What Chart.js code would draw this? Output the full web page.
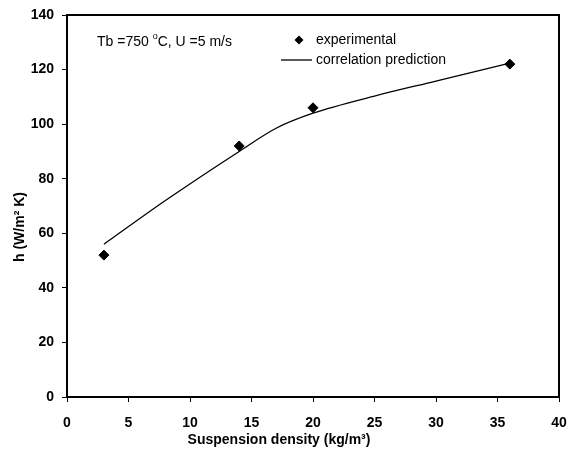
<!DOCTYPE html>
<html>
<head>
<meta charset="utf-8">
<script src="https://cdn.jsdelivr.net/npm/chart.js@4"></script>
<style>
  html, body { margin: 0; padding: 0; background: #fff; }
  #wrap { width: 568px; height: 451px; position: relative; }
</style>
</head>
<body>
<div id="wrap"><canvas id="hChart"></canvas></div>
<script>
// dados
const expDensity = [3, 14, 20, 36];
const expH = [52, 92, 106, 122];
const corrDensity = [3, 8, 14, 17, 20, 25, 30, 36];
const corrH = [56, 72, 90, 98.5, 104, 110.3, 115.8, 122.4];
const xTicks = [0, 5, 10, 15, 20, 25, 30, 35, 40];
const yTicks = [0, 20, 40, 60, 80, 100, 120, 140];

const FONT = '"Liberation Sans", Arial, sans-serif';

// moldura, legenda, anotação e títulos dos eixos
const extras = {
    id: 'extras',
    afterDraw(chart) {
        const c = chart.ctx;
        const a = chart.chartArea;
        c.save();
        c.strokeStyle = '#000';
        c.lineWidth = 2;
        c.strokeRect(a.left, a.top, a.right - a.left, a.bottom - a.top);

        // anotação
        c.fillStyle = '#000';
        c.textBaseline = 'middle';
        c.textAlign = 'left';
        c.font = '14px ' + FONT;
        let x = 97, y = 42;
        c.fillText('Tb =750 ', x, y);
        x += c.measureText('Tb =750 ').width;
        c.font = '9px ' + FONT;
        c.fillText('o', x, y - 5);
        x += c.measureText('o').width;
        c.font = '14px ' + FONT;
        c.fillText('C, U =5 m/s', x, y);

        // legenda
        const ds = chart.data.datasets;
        c.fillText(ds[0].label, 316, 40);
        c.beginPath();
        c.moveTo(299, 35.5); c.lineTo(303.5, 40); c.lineTo(299, 44.5); c.lineTo(294.5, 40);
        c.closePath();
        c.fill();
        c.fillText(ds[1].label, 316, 60);
        c.lineWidth = 1.3;
        c.beginPath();
        c.moveTo(281, 60); c.lineTo(312, 60);
        c.stroke();

        // títulos dos eixos
        c.font = 'bold 14px ' + FONT;
        c.textAlign = 'center';
        c.fillText('Suspension density (kg/m\u00B3)', 279, 440);
        c.translate(20, 227);
        c.rotate(-Math.PI / 2);
        c.fillText('h (W/m\u00B2 K)', 0, 0);
        c.restore();
    }
};

new Chart(document.getElementById('hChart'), {
    type: 'scatter',
    data: {
        datasets: [{
            label: 'experimental',
            data: expDensity.map((d, i) => ({ x: d, y: expH[i] })),
            pointStyle: 'rectRot',
            pointRadius: 5,
            backgroundColor: '#000',
            borderColor: '#000',
            showLine: false
        }, {
            label: 'correlation prediction',
            data: corrDensity.map((d, i) => ({ x: d, y: corrH[i] })),
            showLine: true,
            pointRadius: 0,
            borderColor: '#000',
            borderWidth: 1.3,
            cubicInterpolationMode: 'monotone'
        }]
    },
    options: {
        responsive: true,
        maintainAspectRatio: false,
        animation: false,
        layout: { padding: { top: 15, right: 9, left: 0, bottom: 0 } },
        plugins: {
            legend: { display: false },
            tooltip: { enabled: false }
        },
        scales: {
            x: {
                type: 'linear',
                min: 0, max: 40,
                afterBuildTicks: s => { s.ticks = xTicks.map(v => ({ value: v })); },
                afterFit: s => { s.height = 54; s.paddingLeft = 0; s.paddingRight = 0; },
                grid: { drawOnChartArea: false, tickLength: 5, color: '#000', tickWidth: 1 },
                border: { color: '#000', width: 2 },
                ticks: { color: '#000', font: { family: FONT, size: 14, weight: 'bold' }, padding: 13, maxRotation: 0 }
            },
            y: {
                min: 0, max: 140,
                afterBuildTicks: s => { s.ticks = yTicks.map(v => ({ value: v })); },
                afterFit: s => { s.width = 67; s.paddingTop = 0; s.paddingBottom = 0; },
                grid: { drawOnChartArea: false, tickLength: 5, color: '#000', tickWidth: 1 },
                border: { color: '#000', width: 2 },
                ticks: { color: '#000', font: { family: FONT, size: 14, weight: 'bold' }, padding: 8 }
            }
        }
    },
    plugins: [extras]
});
</script>
</body>
</html>
